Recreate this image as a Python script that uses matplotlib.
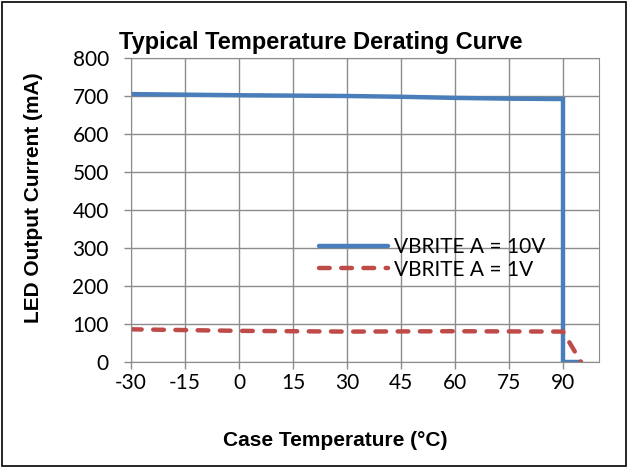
import matplotlib
matplotlib.use("Agg")
import matplotlib.pyplot as plt
from matplotlib.patches import Rectangle

# curve data
temp_10v = [-30, 0, 30, 45, 60, 75, 90, 90, 95]
curr_10v = [705, 702, 700, 698, 695, 693, 692, 0, 0]
temp_1v = [-30, 0, 30, 60, 90, 95]
curr_1v = [86, 82, 80, 81, 80, 0]
x_ticks = [-30, -15, 0, 15, 30, 45, 60, 75, 90]
y_ticks = [0, 100, 200, 300, 400, 500, 600, 700, 800]

plt.rcParams['font.family'] = ['Lato', 'DejaVu Sans']
plt.rcParams['axes.unicode_minus'] = False

W, H = 629, 468
fig = plt.figure(figsize=(W / 100, H / 100), dpi=100)
ax = fig.add_axes([131 / W, 1 - 362 / H, (599 - 131) / W, (362 - 58) / H])

ax.plot(temp_10v, curr_10v, color="#4a7ebb", lw=3.2, label="VBRITE A = 10V",
        solid_capstyle="round", solid_joinstyle="miter")
ax.plot(temp_1v, curr_1v, color="#be4b48", lw=3.2, ls=(0, (2.4, 2.6)), label="VBRITE A = 1V",
        dash_capstyle="round")

ax.set_xlim(-30, 100)
ax.set_ylim(0, 800)
ax.set_xticks(x_ticks)
ax.set_yticks(y_ticks)
ax.grid(True, color="#8c8c8c", lw=1)
ax.set_axisbelow(True)
for s in ax.spines.values():
    s.set_color("#8c8c8c")
ax.tick_params(axis="both", colors="#8c8c8c", labelcolor="black", labelsize=15, length=5, width=1)
ax.tick_params(axis="x", pad=3)
ax.tick_params(axis="y", pad=11)

# title and axis titles placed on the figure like the Excel original
fig.text(321 / W, 1 - 42 / H, "Typical Temperature Derating Curve", fontsize=17,
         fontweight="bold", family="Liberation Sans", ha="center", va="center")
fig.text(335 / W, 1 - 440 / H, "Case Temperature (°C)", fontsize=15,
         fontweight="bold", family="Liberation Sans", ha="center", va="center")
fig.text(34 / W, 1 - 198 / H, "LED Output Current (mA)", fontsize=15, rotation=90,
         fontweight="bold", family="Liberation Sans", ha="center", va="center")

ax.legend(loc="upper left", bbox_to_anchor=(309 / W, 1 - 227 / H), bbox_transform=fig.transFigure,
          frameon=False, fontsize=15, borderpad=0, handlelength=3.3, labelspacing=0.1,
          handletextpad=0.3)

fig.patches.append(Rectangle((0.003, 0.004), 0.993, 0.992, transform=fig.transFigure,
                             fill=False, edgecolor="black", lw=1.2))

fig.savefig("out.png", dpi=100)
